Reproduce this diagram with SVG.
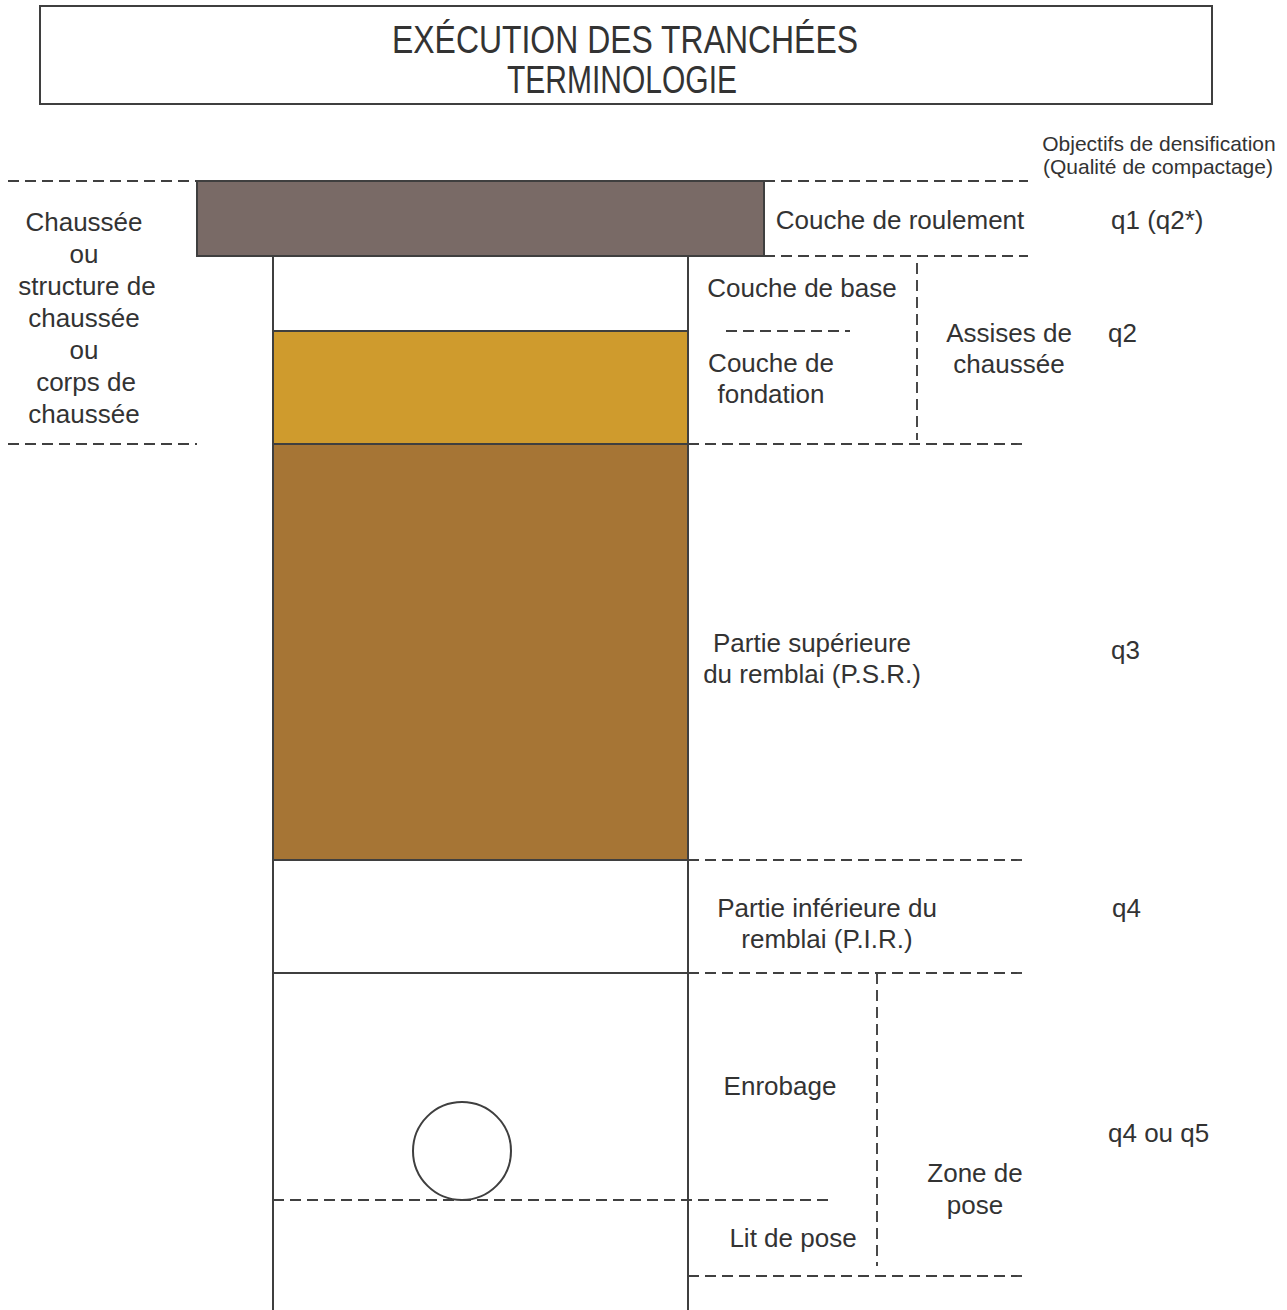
<svg xmlns="http://www.w3.org/2000/svg" width="1287" height="1310" viewBox="0 0 1287 1310">
  <style>
    .t { font-family: "Liberation Sans", Arial, sans-serif; font-size: 26px; fill: #333333; text-anchor: middle; }
    .s { font-family: "Liberation Sans", Arial, sans-serif; font-size: 21px; fill: #333333; text-anchor: middle; }
    .q { font-family: "Liberation Sans", Arial, sans-serif; font-size: 26px; fill: #333333; text-anchor: start; }
    .title { font-family: "Liberation Sans Narrow", "Liberation Sans", Arial, sans-serif; font-size: 38px; fill: #333333; text-anchor: middle; }
    .solid { stroke: #3f3f3f; stroke-width: 2; fill: none; }
    .dash { stroke: #404040; stroke-width: 1.9; stroke-dasharray: 11 6; fill: none; }
  </style>
  <rect width="1287" height="1310" fill="#ffffff"/>

  <g id="title">
    <rect x="40" y="6" width="1172" height="98" fill="#ffffff" stroke="#3f3f3f" stroke-width="2"/>
    <text class="title" x="625" y="53" textLength="466" lengthAdjust="spacingAndGlyphs">EXÉCUTION DES TRANCHÉES</text>
    <text class="title" x="622" y="93" textLength="230" lengthAdjust="spacingAndGlyphs">TERMINOLOGIE</text>
  </g>

  <g id="trench">
    <rect id="layer-gold" x="273" y="331" width="415" height="113" fill="#cf9b2d" stroke="#3f3f3f" stroke-width="2"/>
    <rect id="layer-brown" x="273" y="444" width="415" height="416" fill="#a67535" stroke="#3f3f3f" stroke-width="2"/>
    <line class="solid" x1="273" y1="256" x2="273" y2="1310"/>
    <line class="solid" x1="688" y1="256" x2="688" y2="1310"/>
    <line class="solid" x1="273" y1="973" x2="688" y2="973"/>
    <rect id="layer-roulement" x="197" y="181" width="567" height="75" fill="#796a66" stroke="#3f3f3f" stroke-width="2"/>
    <circle id="pipe" cx="462" cy="1151" r="49" fill="#ffffff" stroke="#3f3f3f" stroke-width="2"/>
  </g>

  <g id="connectors">
    <line class="dash" x1="8" y1="181" x2="197" y2="181"/>
    <line class="dash" x1="764" y1="181" x2="1028" y2="181"/>
    <line class="dash" x1="764" y1="256" x2="1028" y2="256"/>
    <line class="dash" x1="726" y1="331" x2="850" y2="331"/>
    <line class="dash" x1="917" y1="263" x2="917" y2="440"/>
    <line class="dash" x1="8" y1="444" x2="197" y2="444"/>
    <line class="dash" x1="688" y1="444" x2="1028" y2="444"/>
    <line class="dash" x1="688" y1="860" x2="1028" y2="860"/>
    <line class="dash" x1="688" y1="973" x2="1028" y2="973"/>
    <line class="dash" x1="877" y1="973" x2="877" y2="1266"/>
    <line class="dash" x1="273" y1="1200" x2="831" y2="1200"/>
    <line class="dash" x1="688" y1="1276" x2="1028" y2="1276"/>
  </g>

  <g id="label-chaussee">
    <text class="t" x="84" y="231">Chaussée</text>
    <text class="t" x="84" y="263">ou</text>
    <text class="t" x="87" y="295">structure de</text>
    <text class="t" x="84" y="327">chaussée</text>
    <text class="t" x="84" y="359">ou</text>
    <text class="t" x="86" y="391">corps de</text>
    <text class="t" x="84" y="423">chaussée</text>
  </g>

  <g id="label-objectifs">
    <text class="s" x="1159" y="151">Objectifs de densification</text>
    <text class="s" x="1158" y="174">(Qualité de compactage)</text>
  </g>

  <g id="label-roulement">
    <text class="t" x="900" y="229">Couche de roulement</text>
    <text class="q" x="1111" y="229">q1 (q2*)</text>
  </g>

  <g id="label-base">
    <text class="t" x="802" y="297">Couche de base</text>
  </g>

  <g id="label-fondation">
    <text class="t" x="771" y="372">Couche de</text>
    <text class="t" x="771" y="403">fondation</text>
  </g>

  <g id="label-assises">
    <text class="t" x="1009" y="342">Assises de</text>
    <text class="t" x="1009" y="373">chaussée</text>
    <text class="q" x="1108" y="342">q2</text>
  </g>

  <g id="label-psr">
    <text class="t" x="812" y="652">Partie supérieure</text>
    <text class="t" x="812" y="683">du remblai (P.S.R.)</text>
    <text class="q" x="1111" y="659">q3</text>
  </g>

  <g id="label-pir">
    <text class="t" x="827" y="917">Partie inférieure du</text>
    <text class="t" x="827" y="948">remblai (P.I.R.)</text>
    <text class="q" x="1112" y="917">q4</text>
  </g>

  <g id="label-enrobage">
    <text class="t" x="780" y="1095">Enrobage</text>
  </g>

  <g id="label-lit">
    <text class="t" x="793" y="1247">Lit de pose</text>
  </g>

  <g id="label-zone">
    <text class="t" x="975" y="1182">Zone de</text>
    <text class="t" x="975" y="1214">pose</text>
    <text class="q" x="1108" y="1142">q4 ou q5</text>
  </g>
</svg>
